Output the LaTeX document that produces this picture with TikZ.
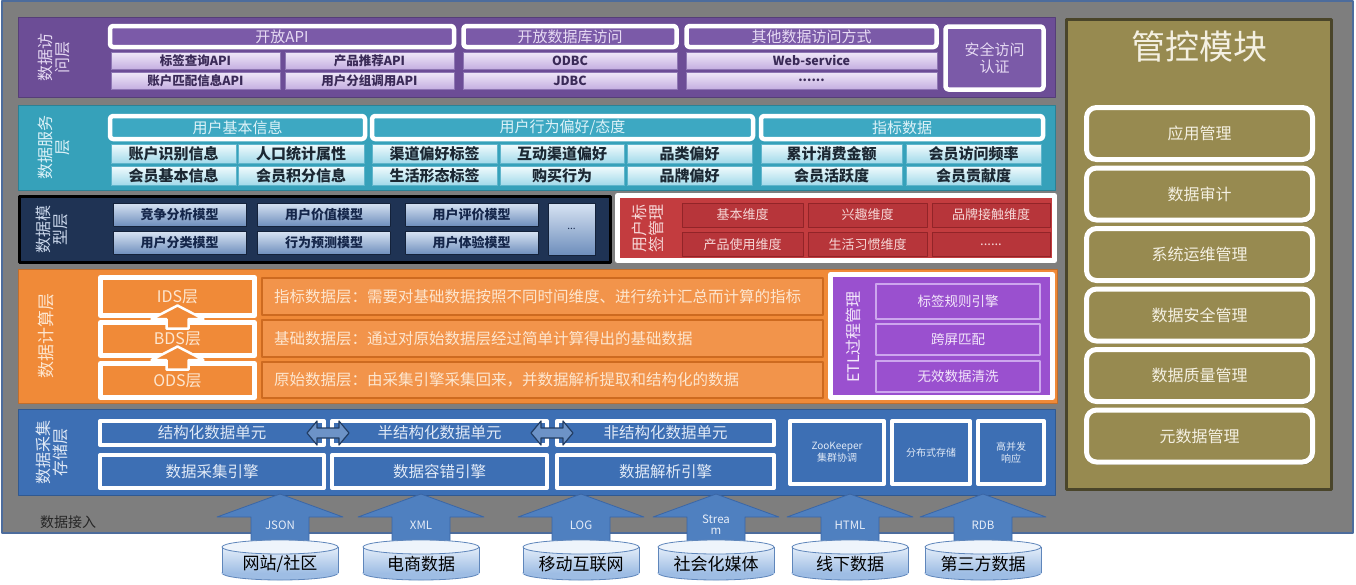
\documentclass[tikz,border=0pt]{standalone}
\usepackage{fontspec}
\setmainfont{Noto Sans CJK SC}
\usetikzlibrary{calc,shadows}
\definecolor{bgGray}{HTML}{7E7E7E}
\definecolor{bgBord}{HTML}{4D6C9C}
\definecolor{pPanel}{HTML}{6C4D96}
\definecolor{pHead}{HTML}{7B5AA8}
\definecolor{pTop}{HTML}{EFE8F8}
\definecolor{pBot}{HTML}{C5AFE1}
\definecolor{pBord}{HTML}{8E76B3}
\definecolor{pTxt}{HTML}{3A2A57}
\definecolor{pLab}{HTML}{E6DAF3}
\definecolor{tPanel}{HTML}{36A1BA}
\definecolor{tHead}{HTML}{3DA8C2}
\definecolor{tTop}{HTML}{F2FBFD}
\definecolor{tBot}{HTML}{A2DAEA}
\definecolor{tBord}{HTML}{5FB5CB}
\definecolor{tTxt}{HTML}{1C2833}
\definecolor{tLab}{HTML}{DDF2F8}
\definecolor{mPanel}{HTML}{1F3354}
\definecolor{mTop}{HTML}{D7E3F3}
\definecolor{mBot}{HTML}{6E8EBC}
\definecolor{mBord}{HTML}{14223A}
\definecolor{mTxt}{HTML}{15264A}
\definecolor{mLab}{HTML}{CAD7EB}
\definecolor{rPanel}{HTML}{C33C3F}
\definecolor{rSub}{HTML}{B7353A}
\definecolor{rBord}{HTML}{922428}
\definecolor{rTxt}{HTML}{F6D8D8}
\definecolor{oPanel}{HTML}{F08A38}
\definecolor{oBar}{HTML}{F2944B}
\definecolor{oBarB}{HTML}{CD6A20}
\definecolor{oTxt}{HTML}{FDE6CF}
\definecolor{ePanel}{HTML}{9A50CF}
\definecolor{eBord}{HTML}{CDA6EE}
\definecolor{eTxt}{HTML}{F3E7FB}
\definecolor{bPanel}{HTML}{3D6FB4}
\definecolor{bTxt}{HTML}{E0E9F6}
\definecolor{gPanel}{HTML}{978A50}
\definecolor{gBord}{HTML}{4A452A}
\definecolor{gTxt}{HTML}{F4F0E2}
\definecolor{aFill}{HTML}{4F80C0}
\definecolor{aBord}{HTML}{3A66A6}
\definecolor{aTxt}{HTML}{E6EDF8}
\definecolor{cTop}{HTML}{E3EDF9}
\definecolor{cBot}{HTML}{9EBDE4}
\definecolor{cBord}{HTML}{5F86BB}
\begin{document}
\begin{tikzpicture}[x=1pt,y=-1pt,line join=round,
 bx/.style={inner sep=0pt,outer sep=0pt,align=center},
 panel/.style={bx,draw=#1!80!black,fill=#1,line width=1},
 lab/.style={bx,rotate=90,font=\fontsize{16}{17}\selectfont},
 hdr/.style={bx,draw=white,line width=4.5,rounded corners=3,fill=#1,font=\fontsize{15}{17}\selectfont},
 psub/.style={bx,draw=pBord,line width=0.6,top color=pTop,bottom color=pBot,minimum height=17,text=pTxt,font=\fontsize{12.5}{13}\selectfont\bfseries},
 tsub/.style={bx,draw=tBord,line width=0.6,top color=tTop,bottom color=tBot,minimum height=19,text=tTxt,font=\fontsize{15}{15}\selectfont\bfseries},
 msub/.style={bx,draw=mBord,line width=0.8,top color=mTop,bottom color=mBot,minimum height=23,text=mTxt,font=\fontsize{13}{13}\selectfont\bfseries},
 rsub/.style={bx,draw=rBord,line width=1,fill=rSub,minimum height=24,text=rTxt,font=\fontsize{13}{13}\selectfont},
 lvl/.style={bx,draw=white,line width=5,fill=oPanel,minimum width=154,text=oTxt,font=\fontsize{16}{16}\selectfont},
 txtbar/.style={bx,draw=oBarB,line width=1.5,fill=oBar,text width=537,inner xsep=12,align=left,minimum height=37,text=oTxt,font=\fontsize{15.5}{16}\selectfont},
 esub/.style={bx,draw=eBord,line width=1.2,fill=ePanel,minimum width=164,text=eTxt,font=\fontsize{13.5}{14}\selectfont},
 cell/.style={bx,draw=white,line width=4,fill=bPanel,text=bTxt,font=\fontsize{15.5}{16}\selectfont},
 svc/.style={bx,draw=white,line width=4,fill=bPanel,minimum height=63,text=bTxt,font=\fontsize{10}{12}\selectfont},
 mgmt/.style={bx,draw=white,line width=5,rounded corners=10,fill=gPanel,minimum width=226,minimum height=52,text=gTxt,font=\fontsize{16}{16}\selectfont,
   drop shadow={shadow xshift=1.5pt,shadow yshift=-2.5pt,fill=black,opacity=.35}},
 inarr/.style={fill=aFill,draw=aBord,line width=0.8}]
\useasboundingbox (0,0) rectangle (1356,584);
\fill[white] (0,0) rectangle (1356,584);
\filldraw[fill=bgGray,draw=bgBord,line width=2] (2,1) rectangle (1353,533);

\node[panel=pPanel,minimum width=1037,minimum height=80] (acc) at (536.5,57) {};
\node[lab,text=pLab] (accL) at (54,57) {数据访\\问层};
\node[hdr=pHead,minimum width=344,minimum height=21,text=pLab] (api) at (282,36.5) {开放API};
\node[hdr=pHead,minimum width=213,minimum height=21,text=pLab] (odb) at (570,36.5) {开放数据库访问};
\node[hdr=pHead,minimum width=250,minimum height=21,text=pLab] (oth) at (811.5,36.5) {其他数据访问方式};
\node[hdr=pHead,minimum width=98,minimum height=63,text=pLab] (sec) at (994.5,58) {安全访问\\认证};
\foreach \cx/\w/\ta/\tb [count=\i] in {195.5/169/标签查询API/账户匹配信息API, 369.5/169/产品推荐API/用户分组调用API, 570/214/ODBC/JDBC, 811.5/251/Web-service/\mbox{......}}{
 \node[psub,minimum width=\w] (pa\i) at (\cx,60.5) {\ta};
 \node[psub,minimum width=\w] (pb\i) at (\cx,80.5) {\tb};
}

\node[panel=tPanel,minimum width=1037,minimum height=85] (svr) at (536.5,147.5) {};
\node[lab,text=tLab] (svrL) at (54,147) {数据服务\\层};
\node[hdr=tHead,minimum width=255,minimum height=23,text=tLab] (ubi) at (237.5,127.5) {用户基本信息};
\node[hdr=tHead,minimum width=381,minimum height=23,text=tLab] (ubp) at (562.5,127.5) {用户行为偏好/态度};
\node[hdr=tHead,minimum width=282,minimum height=23,text=tLab] (kpi) at (902,127.5) {指标数据};
\foreach \cx/\w/\ta/\tb [count=\i] in {173.5/125/账户识别信息/会员基本信息, 301/126/人口统计属性/会员积分信息, 434.5/125/渠道偏好标签/生活形态标签, 562/124/互动渠道偏好/购买行为, 689.5/125/品类偏好/品牌偏好, 831.5/141/累计消费金额/会员活跃度, 973.5/135/会员访问频率/会员贡献度}{
 \node[tsub,minimum width=\w] (ta\i) at (\cx,153.5) {\ta};
 \node[tsub,minimum width=\w] (tb\i) at (\cx,175.5) {\tb};
}

\node[panel=mPanel,draw=black,line width=3,minimum width=591,minimum height=66] (mdl) at (315,229.5) {};
\node[lab,text=mLab] (mdlL) at (52,229) {数据模\\型层};
\foreach \cx/\ta/\tb [count=\i] in {179.5/竞争分析模型/用户分类模型, 324/用户价值模型/行为预测模型, 471.5/用户评价模型/用户体验模型}{
 \node[msub,minimum width=133] (ma\i) at (\cx,214.5) {\ta};
 \node[msub,minimum width=133] (mb\i) at (\cx,243) {\tb};
}
\node[msub,minimum width=47,minimum height=52,font=\fontsize{10}{10}\selectfont] (mx) at (571.5,229) {\mbox{...}};

\node[panel=rPanel,draw=white,line width=5,minimum width=437,minimum height=65] (tag) at (836,228) {};
\node[lab,text=rTxt] (tagL) at (648,228) {用户标\\签管理};
\foreach \cx/\w/\ta/\tb [count=\i] in {742.5/121/基本维度/产品使用维度, 867.5/119/兴趣维度/生活习惯维度, 991/118/品牌接触维度/\mbox{......}}{
 \node[rsub,minimum width=\w] (ra\i) at (\cx,215) {\ta};
 \node[rsub,minimum width=\w] (rb\i) at (\cx,244.5) {\tb};
}

\node[panel=oPanel,minimum width=1039,minimum height=134] (cmp) at (537.5,336) {};
\node[lab,text=oTxt,font=\fontsize{17}{17}\selectfont] (cmpL) at (46,336) {数据计算层};
\node[lvl,minimum height=38] (ids) at (177.5,296.5) {IDS层};
\node[lvl,minimum height=33] (bds) at (177.5,339) {BDS层};
\node[lvl,minimum height=34] (ods) at (177.5,380.5) {ODS层};
\foreach \a in {bds,ods}
 \filldraw[fill=oPanel,draw=white,line width=2.5,shift={(\a.north)}] (-11,6) -- (-11,-3.5) -- (-26,-3.5) -- (0,-17) -- (26,-3.5) -- (11,-3.5) -- (11,6) -- cycle;
\node[txtbar] (bi) at (542.5,296.5) {指标数据层：需要对基础数据按照不同时间维度、进行统计汇总而计算的指标};
\node[txtbar] (bb) at (542.5,338.5) {基础数据层：通过对原始数据层经过简单计算得出的基础数据};
\node[txtbar,minimum height=36] (bo) at (542.5,380) {原始数据层：由采集引擎采集回来，并数据解析提取和结构化的数据};
\node[panel=ePanel,draw=white,line width=5,minimum width=222,minimum height=123] (etl) at (941.5,336) {};
\node[lab,text=eTxt] (etlL) at (853,337) {ETL过程管理};
\foreach \cy/\h/\t [count=\i] in {301.5/35/标签规则引擎, 339.5/31/跨屏匹配, 376.5/31/无效数据清洗}
 \node[esub,minimum height=\h] (e\i) at (958,\cy) {\t};

\node[panel=bPanel,minimum width=1037,minimum height=86] (col) at (536.5,452) {};
\node[lab,text=bTxt] (colL) at (52,452) {数据采集\\存储层};
\foreach \cx/\w/\ta/\tb [count=\i] in {212/224/结构化数据单元/数据采集引擎, 439.5/215/半结构化数据单元/数据容错引擎, 665.5/217/非结构化数据单元/数据解析引擎}{
 \node[cell,minimum width=\w,minimum height=24] (ua\i) at (\cx,433) {\ta};
 \node[cell,minimum width=\w,minimum height=33] (ub\i) at (\cx,471.5) {\tb};
}
\foreach \a/\b in {ua1/ua2, ua2/ua3}
 \filldraw[fill=bPanel!75!white,draw=bPanel!55!black,line width=1.2,shift={($(\a.east)!.5!(\b.west)$)}] (-21,0) -- (-11,-12) -- (-11,-5) -- (11,-5) -- (11,-12) -- (21,0) -- (11,12) -- (11,5) -- (-11,5) -- (-11,12) -- cycle;
\node[svc,minimum width=94] (zk) at (837,452.5) {ZooKeeper\\集群协调};
\node[svc,minimum width=78] (dfs) at (931,452.5) {分布式存储};
\node[svc,minimum width=66] (hc) at (1011,452.5) {高并发\\响应};

\node[panel=gPanel,draw=gBord,line width=3,minimum width=265,minimum height=470] (ctl) at (1199,254.5) {};
\node[bx,text=gTxt,font=\fontsize{34}{34}\selectfont] (ctlT) at (1199,47) {管控模块};
\foreach \cy/\t [count=\i] in {133.5/应用管理, 194/数据审计, 254.5/系统运维管理, 315/数据安全管理, 375.5/数据质量管理, 436/元数据管理}
 \node[mgmt] (g\i) at (1199.5,\cy) {\t};

\node[bx,text=black!85,font=\fontsize{14}{14}\selectfont] (inL) at (68,522) {数据接入};
\foreach \cx/\lb/\src [count=\i] in {280/JSON/{网站/社区}, 421/XML/电商数据, 581/LOG/移动互联网, 716/{Strea\\m}/社会化媒体, 850/HTML/线下数据, 983/RDB/第三方数据}{
 \filldraw[inarr] (\cx-29,548) -- (\cx-29,517) -- (\cx-63,517) -- (\cx,494) -- (\cx+63,517) -- (\cx+29,517) -- (\cx+29,548) -- cycle;
 \node[bx,text=aTxt,font=\fontsize{11.5}{11}\selectfont] (fmt\i) at (\cx,525) {\lb};
 \draw[cBord,fill=cBot,line width=0.8] (\cx,573) ellipse [x radius=58,y radius=7];
 \shade[top color=cTop,bottom color=cBot] (\cx-58,547) rectangle (\cx+58,573);
 \draw[cBord,line width=0.8] (\cx-58,547) -- (\cx-58,573) (\cx+58,547) -- (\cx+58,573);
 \filldraw[fill=cTop!60!white,draw=cBord,line width=0.8] (\cx,547) ellipse [x radius=58,y radius=7];
 \node[bx,text=black,font=\fontsize{17}{17}\selectfont] (src\i) at (\cx,564) {\src};
}
\end{tikzpicture}
\end{document}
